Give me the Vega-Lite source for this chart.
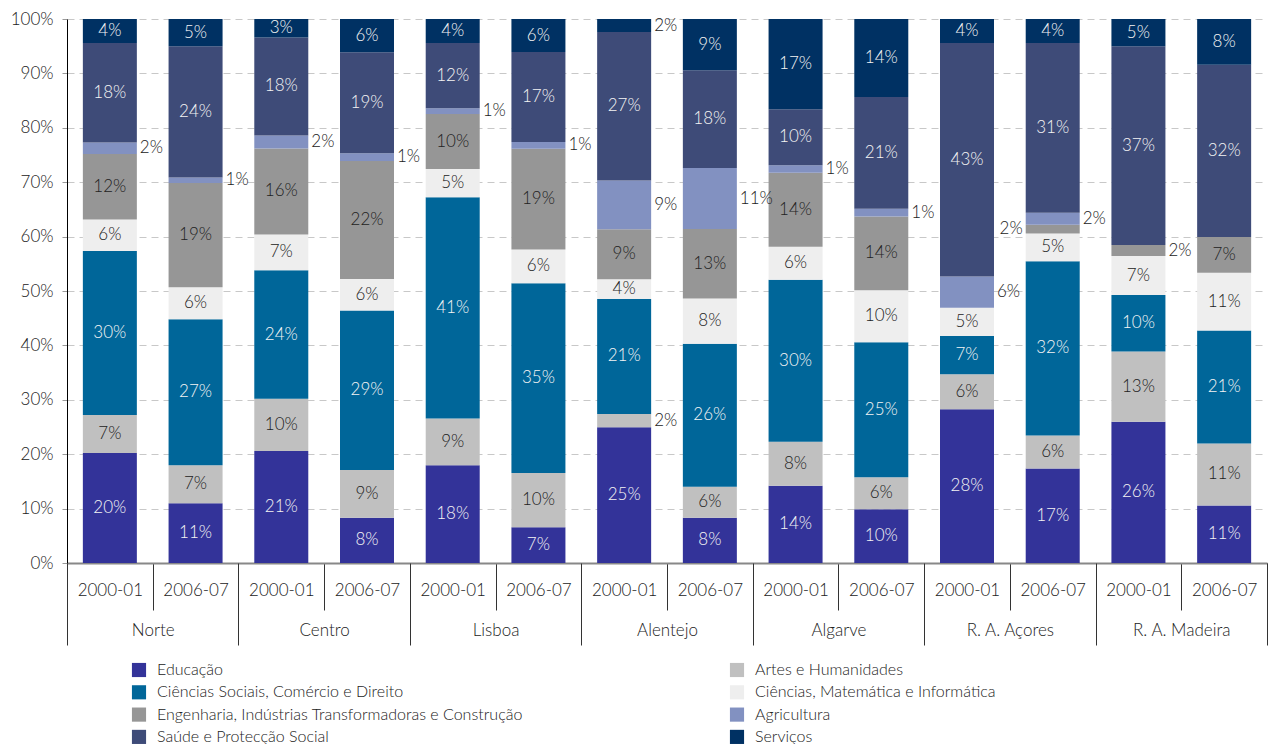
{
  "$schema": "https://vega.github.io/schema/vega-lite/v6.json",
  "width": 1200,
  "height": 544,
  "autosize": "none",
  "padding": {"left": 67, "top": 19, "right": 1, "bottom": 181},
  "config": {
    "view": {"stroke": null},
    "font": "Lato",
    "text": {"font": "Lato"},
    "axis": {"labelFont": "Lato", "titleFont": "Lato", "labelFontWeight": 300},
    "legend": {"labelFont": "Lato", "labelFontWeight": 300}
  },
  "data": {"values": [
    {"region": "Norte", "period": "2000-01", "category": "Educação", "value": 0.202},
    {"region": "Norte", "period": "2000-01", "category": "Artes e Humanidades", "value": 0.070},
    {"region": "Norte", "period": "2000-01", "category": "Ciências Sociais, Comércio e Direito", "value": 0.301},
    {"region": "Norte", "period": "2000-01", "category": "Ciências, Matemática e Informática", "value": 0.058},
    {"region": "Norte", "period": "2000-01", "category": "Engenharia, Indústrias Transformadoras e Construção", "value": 0.120},
    {"region": "Norte", "period": "2000-01", "category": "Agricultura", "value": 0.021},
    {"region": "Norte", "period": "2000-01", "category": "Saúde e Protecção Social", "value": 0.183},
    {"region": "Norte", "period": "2000-01", "category": "Serviços", "value": 0.044},
    {"region": "Norte", "period": "2006-07", "category": "Educação", "value": 0.110},
    {"region": "Norte", "period": "2006-07", "category": "Artes e Humanidades", "value": 0.070},
    {"region": "Norte", "period": "2006-07", "category": "Ciências Sociais, Comércio e Direito", "value": 0.269},
    {"region": "Norte", "period": "2006-07", "category": "Ciências, Matemática e Informática", "value": 0.059},
    {"region": "Norte", "period": "2006-07", "category": "Engenharia, Indústrias Transformadoras e Construção", "value": 0.192},
    {"region": "Norte", "period": "2006-07", "category": "Agricultura", "value": 0.010},
    {"region": "Norte", "period": "2006-07", "category": "Saúde e Protecção Social", "value": 0.242},
    {"region": "Norte", "period": "2006-07", "category": "Serviços", "value": 0.050},
    {"region": "Centro", "period": "2000-01", "category": "Educação", "value": 0.206},
    {"region": "Centro", "period": "2000-01", "category": "Artes e Humanidades", "value": 0.096},
    {"region": "Centro", "period": "2000-01", "category": "Ciências Sociais, Comércio e Direito", "value": 0.236},
    {"region": "Centro", "period": "2000-01", "category": "Ciências, Matemática e Informática", "value": 0.066},
    {"region": "Centro", "period": "2000-01", "category": "Engenharia, Indústrias Transformadoras e Construção", "value": 0.158},
    {"region": "Centro", "period": "2000-01", "category": "Agricultura", "value": 0.024},
    {"region": "Centro", "period": "2000-01", "category": "Saúde e Protecção Social", "value": 0.180},
    {"region": "Centro", "period": "2000-01", "category": "Serviços", "value": 0.034},
    {"region": "Centro", "period": "2006-07", "category": "Educação", "value": 0.083},
    {"region": "Centro", "period": "2006-07", "category": "Artes e Humanidades", "value": 0.088},
    {"region": "Centro", "period": "2006-07", "category": "Ciências Sociais, Comércio e Direito", "value": 0.293},
    {"region": "Centro", "period": "2006-07", "category": "Ciências, Matemática e Informática", "value": 0.058},
    {"region": "Centro", "period": "2006-07", "category": "Engenharia, Indústrias Transformadoras e Construção", "value": 0.217},
    {"region": "Centro", "period": "2006-07", "category": "Agricultura", "value": 0.014},
    {"region": "Centro", "period": "2006-07", "category": "Saúde e Protecção Social", "value": 0.186},
    {"region": "Centro", "period": "2006-07", "category": "Serviços", "value": 0.061},
    {"region": "Lisboa", "period": "2000-01", "category": "Educação", "value": 0.180},
    {"region": "Lisboa", "period": "2000-01", "category": "Artes e Humanidades", "value": 0.086},
    {"region": "Lisboa", "period": "2000-01", "category": "Ciências Sociais, Comércio e Direito", "value": 0.407},
    {"region": "Lisboa", "period": "2000-01", "category": "Ciências, Matemática e Informática", "value": 0.052},
    {"region": "Lisboa", "period": "2000-01", "category": "Engenharia, Indústrias Transformadoras e Construção", "value": 0.101},
    {"region": "Lisboa", "period": "2000-01", "category": "Agricultura", "value": 0.011},
    {"region": "Lisboa", "period": "2000-01", "category": "Saúde e Protecção Social", "value": 0.120},
    {"region": "Lisboa", "period": "2000-01", "category": "Serviços", "value": 0.044},
    {"region": "Lisboa", "period": "2006-07", "category": "Educação", "value": 0.066},
    {"region": "Lisboa", "period": "2006-07", "category": "Artes e Humanidades", "value": 0.100},
    {"region": "Lisboa", "period": "2006-07", "category": "Ciências Sociais, Comércio e Direito", "value": 0.350},
    {"region": "Lisboa", "period": "2006-07", "category": "Ciências, Matemática e Informática", "value": 0.062},
    {"region": "Lisboa", "period": "2006-07", "category": "Engenharia, Indústrias Transformadoras e Construção", "value": 0.186},
    {"region": "Lisboa", "period": "2006-07", "category": "Agricultura", "value": 0.012},
    {"region": "Lisboa", "period": "2006-07", "category": "Saúde e Protecção Social", "value": 0.166},
    {"region": "Lisboa", "period": "2006-07", "category": "Serviços", "value": 0.061},
    {"region": "Alentejo", "period": "2000-01", "category": "Educação", "value": 0.250},
    {"region": "Alentejo", "period": "2000-01", "category": "Artes e Humanidades", "value": 0.024},
    {"region": "Alentejo", "period": "2000-01", "category": "Ciências Sociais, Comércio e Direito", "value": 0.212},
    {"region": "Alentejo", "period": "2000-01", "category": "Ciências, Matemática e Informática", "value": 0.036},
    {"region": "Alentejo", "period": "2000-01", "category": "Engenharia, Indústrias Transformadoras e Construção", "value": 0.092},
    {"region": "Alentejo", "period": "2000-01", "category": "Agricultura", "value": 0.090},
    {"region": "Alentejo", "period": "2000-01", "category": "Saúde e Protecção Social", "value": 0.273},
    {"region": "Alentejo", "period": "2000-01", "category": "Serviços", "value": 0.024},
    {"region": "Alentejo", "period": "2006-07", "category": "Educação", "value": 0.083},
    {"region": "Alentejo", "period": "2006-07", "category": "Artes e Humanidades", "value": 0.057},
    {"region": "Alentejo", "period": "2006-07", "category": "Ciências Sociais, Comércio e Direito", "value": 0.263},
    {"region": "Alentejo", "period": "2006-07", "category": "Ciências, Matemática e Informática", "value": 0.083},
    {"region": "Alentejo", "period": "2006-07", "category": "Engenharia, Indústrias Transformadoras e Construção", "value": 0.128},
    {"region": "Alentejo", "period": "2006-07", "category": "Agricultura", "value": 0.112},
    {"region": "Alentejo", "period": "2006-07", "category": "Saúde e Protecção Social", "value": 0.180},
    {"region": "Alentejo", "period": "2006-07", "category": "Serviços", "value": 0.094},
    {"region": "Algarve", "period": "2000-01", "category": "Educação", "value": 0.142},
    {"region": "Algarve", "period": "2000-01", "category": "Artes e Humanidades", "value": 0.081},
    {"region": "Algarve", "period": "2000-01", "category": "Ciências Sociais, Comércio e Direito", "value": 0.298},
    {"region": "Algarve", "period": "2000-01", "category": "Ciências, Matemática e Informática", "value": 0.061},
    {"region": "Algarve", "period": "2000-01", "category": "Engenharia, Indústrias Transformadoras e Construção", "value": 0.136},
    {"region": "Algarve", "period": "2000-01", "category": "Agricultura", "value": 0.014},
    {"region": "Algarve", "period": "2000-01", "category": "Saúde e Protecção Social", "value": 0.103},
    {"region": "Algarve", "period": "2000-01", "category": "Serviços", "value": 0.166},
    {"region": "Algarve", "period": "2006-07", "category": "Educação", "value": 0.099},
    {"region": "Algarve", "period": "2006-07", "category": "Artes e Humanidades", "value": 0.059},
    {"region": "Algarve", "period": "2006-07", "category": "Ciências Sociais, Comércio e Direito", "value": 0.249},
    {"region": "Algarve", "period": "2006-07", "category": "Ciências, Matemática e Informática", "value": 0.096},
    {"region": "Algarve", "period": "2006-07", "category": "Engenharia, Indústrias Transformadoras e Construção", "value": 0.136},
    {"region": "Algarve", "period": "2006-07", "category": "Agricultura", "value": 0.014},
    {"region": "Algarve", "period": "2006-07", "category": "Saúde e Protecção Social", "value": 0.206},
    {"region": "Algarve", "period": "2006-07", "category": "Serviços", "value": 0.144},
    {"region": "R. A. Açores", "period": "2000-01", "category": "Educação", "value": 0.282},
    {"region": "R. A. Açores", "period": "2000-01", "category": "Artes e Humanidades", "value": 0.064},
    {"region": "R. A. Açores", "period": "2000-01", "category": "Ciências Sociais, Comércio e Direito", "value": 0.070},
    {"region": "R. A. Açores", "period": "2000-01", "category": "Ciências, Matemática e Informática", "value": 0.052},
    {"region": "R. A. Açores", "period": "2000-01", "category": "Agricultura", "value": 0.057},
    {"region": "R. A. Açores", "period": "2000-01", "category": "Saúde e Protecção Social", "value": 0.428},
    {"region": "R. A. Açores", "period": "2000-01", "category": "Serviços", "value": 0.044},
    {"region": "R. A. Açores", "period": "2006-07", "category": "Educação", "value": 0.174},
    {"region": "R. A. Açores", "period": "2006-07", "category": "Artes e Humanidades", "value": 0.061},
    {"region": "R. A. Açores", "period": "2006-07", "category": "Ciências Sociais, Comércio e Direito", "value": 0.321},
    {"region": "R. A. Açores", "period": "2006-07", "category": "Ciências, Matemática e Informática", "value": 0.051},
    {"region": "R. A. Açores", "period": "2006-07", "category": "Engenharia, Indústrias Transformadoras e Construção", "value": 0.016},
    {"region": "R. A. Açores", "period": "2006-07", "category": "Agricultura", "value": 0.022},
    {"region": "R. A. Açores", "period": "2006-07", "category": "Saúde e Protecção Social", "value": 0.313},
    {"region": "R. A. Açores", "period": "2006-07", "category": "Serviços", "value": 0.044},
    {"region": "R. A. Madeira", "period": "2000-01", "category": "Educação", "value": 0.260},
    {"region": "R. A. Madeira", "period": "2000-01", "category": "Artes e Humanidades", "value": 0.129},
    {"region": "R. A. Madeira", "period": "2000-01", "category": "Ciências Sociais, Comércio e Direito", "value": 0.104},
    {"region": "R. A. Madeira", "period": "2000-01", "category": "Ciências, Matemática e Informática", "value": 0.072},
    {"region": "R. A. Madeira", "period": "2000-01", "category": "Engenharia, Indústrias Transformadoras e Construção", "value": 0.020},
    {"region": "R. A. Madeira", "period": "2000-01", "category": "Saúde e Protecção Social", "value": 0.366},
    {"region": "R. A. Madeira", "period": "2000-01", "category": "Serviços", "value": 0.050},
    {"region": "R. A. Madeira", "period": "2006-07", "category": "Educação", "value": 0.106},
    {"region": "R. A. Madeira", "period": "2006-07", "category": "Artes e Humanidades", "value": 0.114},
    {"region": "R. A. Madeira", "period": "2006-07", "category": "Ciências Sociais, Comércio e Direito", "value": 0.208},
    {"region": "R. A. Madeira", "period": "2006-07", "category": "Ciências, Matemática e Informática", "value": 0.106},
    {"region": "R. A. Madeira", "period": "2006-07", "category": "Engenharia, Indústrias Transformadoras e Construção", "value": 0.066},
    {"region": "R. A. Madeira", "period": "2006-07", "category": "Saúde e Protecção Social", "value": 0.317},
    {"region": "R. A. Madeira", "period": "2006-07", "category": "Serviços", "value": 0.084}
  ]},
  "transform": [
    {"calculate": "datum.region + '|' + datum.period", "as": "key"},
    {"calculate": "indexof(['Educação','Artes e Humanidades','Ciências Sociais, Comércio e Direito','Ciências, Matemática e Informática','Engenharia, Indústrias Transformadoras e Construção','Agricultura','Saúde e Protecção Social','Serviços'], datum.category)", "as": "ord"},
    {"stack": "value", "groupby": ["key"], "sort": [{"field": "ord", "order": "ascending"}], "offset": "normalize", "as": ["v0", "v1"]},
    {"calculate": "(datum.v0 + datum.v1) / 2", "as": "mid"}
  ],
  "layer": [
    {
      "encoding": {
        "x": {
          "field": "key", "type": "nominal",
          "scale": {
            "domain": ["Norte|2000-01","Norte|2006-07","Centro|2000-01","Centro|2006-07","Lisboa|2000-01","Lisboa|2006-07","Alentejo|2000-01","Alentejo|2006-07","Algarve|2000-01","Algarve|2006-07","R. A. Açores|2000-01","R. A. Açores|2006-07","R. A. Madeira|2000-01","R. A. Madeira|2006-07"],
            "paddingInner": 0, "paddingOuter": 0
          },
          "axis": {
            "orient": "bottom", "title": null, "labelAngle": 0,
            "labelExpr": "split(datum.label, '|')[1]",
            "tickBand": "extent", "tickSize": 47, "tickColor": "#333", "tickWidth": 1,
            "labelPadding": -28, "labelFontSize": 17, "labelColor": "#222",
            "domainColor": "#888", "domainWidth": 2
          }
        }
      },
      "layer": [
        {
          "mark": {"type": "bar", "width": {"band": 0.63}},
          "encoding": {
            "y": {
              "field": "v0", "type": "quantitative",
              "scale": {"domain": [0, 1], "nice": false},
              "axis": {
                "title": null, "values": [0,0.1,0.2,0.3,0.4,0.5,0.6,0.7,0.8,0.9,1],
                "format": ".0%", "grid": true, "gridDash": [7, 5], "gridColor": "#c8c8c8",
                "tickSize": 5, "tickColor": "#999", "domainColor": "#000",
                "labelFontSize": 17, "labelColor": "#222", "labelPadding": 9
              }
            },
            "y2": {"field": "v1"},
            "color": {
              "field": "category", "type": "nominal",
              "scale": {
                "domain": ["Educação","Artes e Humanidades","Ciências Sociais, Comércio e Direito","Ciências, Matemática e Informática","Engenharia, Indústrias Transformadoras e Construção","Agricultura","Saúde e Protecção Social","Serviços"],
                "range": ["#333399","#c0c0c0","#006699","#eeeeee","#969696","#8291c1","#3e4b78","#003163"]
              },
              "legend": {
                "values": ["Educação","Ciências Sociais, Comércio e Direito","Engenharia, Indústrias Transformadoras e Construção","Saúde e Protecção Social","Artes e Humanidades","Ciências, Matemática e Informática","Agricultura","Serviços"],
                "orient": "none", "direction": "vertical", "legendX": 64, "legendY": 643, "columns": 2,
                "columnPadding": 206, "rowPadding": 6.3, "padding": 0,
                "title": null, "symbolType": "square", "symbolSize": 200,
                "symbolStrokeWidth": 0, "labelFontSize": 16, "labelColor": "#222",
                "labelOffset": 10, "labelLimit": 600
              }
            }
          }
        },
        {
          "transform": [{"filter": "datum.category != 'Agricultura' && datum.value >= 0.03"}],
          "mark": {"type": "text", "fontSize": 17, "fontWeight": 300, "align": "center", "baseline": "middle"},
          "encoding": {
            "y": {"field": "mid", "type": "quantitative"},
            "text": {"field": "value", "type": "quantitative", "format": ".0%"},
            "color": {
              "condition": {"test": "indexof(['Educação','Ciências Sociais, Comércio e Direito','Saúde e Protecção Social','Serviços'], datum.category) >= 0", "value": "#f4f4f4"},
              "value": "#222222"
            }
          }
        },
        {
          "transform": [{"filter": "(datum.category == 'Agricultura' || datum.value < 0.03) && !(datum.region == 'R. A. Açores' && datum.period == '2006-07' && datum.ord == 4)"}],
          "mark": {"type": "text", "fontSize": 17, "fontWeight": 300, "align": "left", "baseline": "middle", "dx": 30, "color": "#222222"},
          "encoding": {
            "y": {"field": "mid", "type": "quantitative"},
            "text": {"field": "value", "type": "quantitative", "format": ".0%"}
          }
        },
        {
          "transform": [{"filter": "datum.region == 'R. A. Açores' && datum.period == '2006-07' && datum.ord == 4"}],
          "mark": {"type": "text", "fontSize": 17, "fontWeight": 300, "align": "right", "baseline": "middle", "dx": -30, "color": "#222222"},
          "encoding": {
            "y": {"field": "mid", "type": "quantitative"},
            "text": {"field": "value", "type": "quantitative", "format": ".0%"}
          }
        }
      ]
    },
    {
      "mark": {"type": "point", "opacity": 0},
      "encoding": {
        "x": {
          "field": "region", "type": "nominal",
          "scale": {"domain": ["Norte","Centro","Lisboa","Alentejo","Algarve","R. A. Açores","R. A. Madeira"], "paddingInner": 0, "paddingOuter": 0},
          "axis": {
            "orient": "bottom", "title": null, "labelAngle": 0, "domain": false,
            "tickBand": "extent", "tickSize": 82, "tickColor": "#333", "tickWidth": 1,
            "labelPadding": -23, "labelFontSize": 17, "labelColor": "#222"
          }
        },
        "y": {"field": "mid", "type": "quantitative"}
      }
    }
  ],
  "resolve": {"scale": {"x": "independent"}, "axis": {"x": "independent"}}
}
